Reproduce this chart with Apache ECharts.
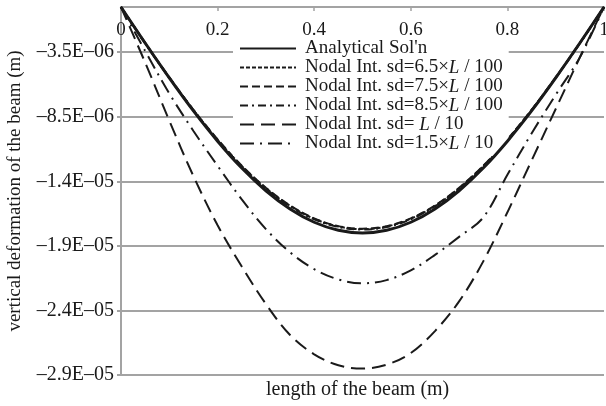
<!DOCTYPE html>
<html>
<head>
<meta charset="utf-8">
<script src="https://cdn.jsdelivr.net/npm/echarts@6/dist/echarts.min.js"></script>
<style>
  html, body { margin: 0; padding: 0; background: #fff; }
  #chart { width: 606px; height: 406px; }
</style>
</head>
<body>
<div id="chart"></div>
<script>
// Position along the beam (fraction of L)
const positions = [0, 0.05, 0.1, 0.15, 0.2, 0.25, 0.3, 0.35, 0.4, 0.45, 0.5,
                   0.55, 0.6, 0.65, 0.7, 0.75, 0.8, 0.85, 0.9, 0.95, 1];

// Vertical deflection, in micrometres
const analytical = [0, -2.79, -5.49, -8.05, -10.39, -12.47, -14.23, -15.64, -16.67, -17.29, -17.50,
                    -17.29, -16.67, -15.64, -14.23, -12.47, -10.39, -8.05, -5.49, -2.79, 0];
const sd65 = [0, -2.80, -5.47, -7.98, -10.28, -12.32, -14.03, -15.40, -16.40, -17.00, -17.20,
              -17.00, -16.40, -15.40, -14.03, -12.32, -10.28, -7.98, -5.47, -2.80, 0];
const sd75 = [0, -2.78, -5.45, -7.96, -10.25, -12.29, -14.00, -15.37, -16.37, -16.97, -17.17,
              -16.97, -16.37, -15.37, -14.00, -12.29, -10.25, -7.96, -5.45, -2.78, 0];
const sd85 = [0, -2.82, -5.50, -8.02, -10.32, -12.36, -14.07, -15.44, -16.44, -17.04, -17.24,
              -17.04, -16.44, -15.44, -14.07, -12.36, -10.32, -8.02, -5.50, -2.82, 0];
const sdL10 = [0, -4.30, -8.80, -13.10, -16.90, -20.10, -23.00, -25.40, -26.90, -27.75, -28.00,
               -27.70, -26.80, -25.10, -22.80, -19.70, -15.90, -11.90, -7.90, -3.90, 0];
const sd15L10 = [0, -3.40, -6.70, -9.60, -12.30, -14.90, -17.20, -19.00, -20.30, -21.10, -21.40,
                 -21.15, -20.40, -19.20, -17.80, -16.30, -13.00, -9.80, -6.80, -3.90, 0];

// Axis ticks
const xTicks = [0, 0.2, 0.4, 0.6, 0.8, 1];
const yTickValues = [-3.5e-6, -8.5e-6, -13.5e-6, -18.5e-6, -23.5e-6, -28.5e-6];
const yTickLabels = ['\u20133.5E\u201306', '\u20138.5E\u201306', '\u20131.4E\u201305',
                     '\u20131.9E\u201305', '\u20132.4E\u201305', '\u20132.9E\u201305'];

const seriesNames = [
  "Analytical Sol'n",
  'Nodal Int. sd=6.5\u00d7{i|L} / 100',
  'Nodal Int. sd=7.5\u00d7{i|L} / 100',
  'Nodal Int. sd=8.5\u00d7{i|L} / 100',
  'Nodal Int. sd= {i|L} / 10',
  'Nodal Int. sd=1.5\u00d7{i|L} / 10'
];

const UM = 1e-6;
const FONT = "'Liberation Serif', 'Times New Roman', serif";
const INK = '#1a1a1a';
const GRID = '#a3a3a3';

function pairs(vals) {
  return positions.map((x, i) => [x, vals[i] * UM]);
}

function lineSeries(name, vals, width, dash, z) {
  return {
    name: name,
    type: 'line',
    data: pairs(vals),
    smooth: 0.35,
    symbol: 'none',
    z: z,
    color: INK,
    itemStyle: { color: INK },
    lineStyle: { color: INK, width: width, type: dash }
  };
}

const chart = echarts.init(document.getElementById('chart'), null, { renderer: 'canvas' });

chart.setOption({
  animation: false,
  backgroundColor: '#fff',
  textStyle: { fontFamily: FONT, color: INK },
  grid: { left: 121, right: 2, top: 7, bottom: 31, containLabel: false, outerBoundsMode: 'none' },
  xAxis: {
    type: 'value',
    position: 'top',
    min: 0,
    max: 1,
    interval: 0.2,
    axisLine: { show: true, lineStyle: { color: GRID, width: 2 } },
    axisTick: { show: true, inside: true, length: 4, lineStyle: { color: GRID, width: 1.5 } },
    axisLabel: {
      inside: true,
      margin: 14,
      fontFamily: FONT,
      fontSize: 19,
      color: INK,
      formatter: v => String(xTicks.find(t => Math.abs(t - v) < 1e-9) ?? v)
    },
    splitLine: { show: false }
  },
  yAxis: {
    type: 'value',
    min: -28.5e-6,
    max: 0,
    name: 'vertical deformation of the beam (m)',
    nameLocation: 'middle',
    nameGap: 96,
    nameRotate: 90,
    nameTextStyle: { fontFamily: FONT, fontSize: 19, color: INK },
    axisLine: { show: true, lineStyle: { color: GRID, width: 2 } },
    axisTick: {
      show: true, inside: false, length: 4,
      customValues: yTickValues,
      lineStyle: { color: GRID, width: 2 }
    },
    axisLabel: {
      margin: 7,
      fontFamily: FONT,
      fontSize: 20,
      color: INK,
      customValues: yTickValues,
      formatter: function (v) {
        let best = 0;
        yTickValues.forEach((t, i) => {
          if (Math.abs(t - v) < Math.abs(yTickValues[best] - v)) best = i;
        });
        return yTickLabels[best];
      }
    },
    splitLine: { show: true, lineStyle: { color: GRID, width: 2 } }
  },
  legend: {
    orient: 'vertical',
    left: 233,
    top: 38,
    padding: [1, 6, 3, 6],
    backgroundColor: '#fff',
    itemWidth: 56,
    itemHeight: 10,
    itemGap: 0,
    data: seriesNames,
    itemStyle: { opacity: 0 },
    textStyle: {
      fontFamily: FONT,
      fontSize: 19,
      lineHeight: 19,
      color: INK,
      padding: [0, 0, 0, 4],
      rich: {
        i: { fontFamily: FONT, fontStyle: 'italic', fontSize: 19, lineHeight: 19, color: INK }
      }
    }
  },
  graphic: [{
    type: 'text',
    left: 266,
    top: 380,
    style: { text: 'length of the beam (m)', font: '20px ' + FONT, fill: INK }
  }],
  series: [
    lineSeries(seriesNames[1], sd65, 2, [4, 2], 3),
    lineSeries(seriesNames[2], sd75, 2, [8, 4], 3),
    lineSeries(seriesNames[3], sd85, 2, [8, 4, 2, 4], 3),
    lineSeries(seriesNames[4], sdL10, 2, [14, 7], 3),
    lineSeries(seriesNames[5], sd15L10, 2, [14, 6, 2, 6], 3),
    lineSeries(seriesNames[0], analytical, 3, 'solid', 4)
  ]
});
</script>
</body>
</html>
